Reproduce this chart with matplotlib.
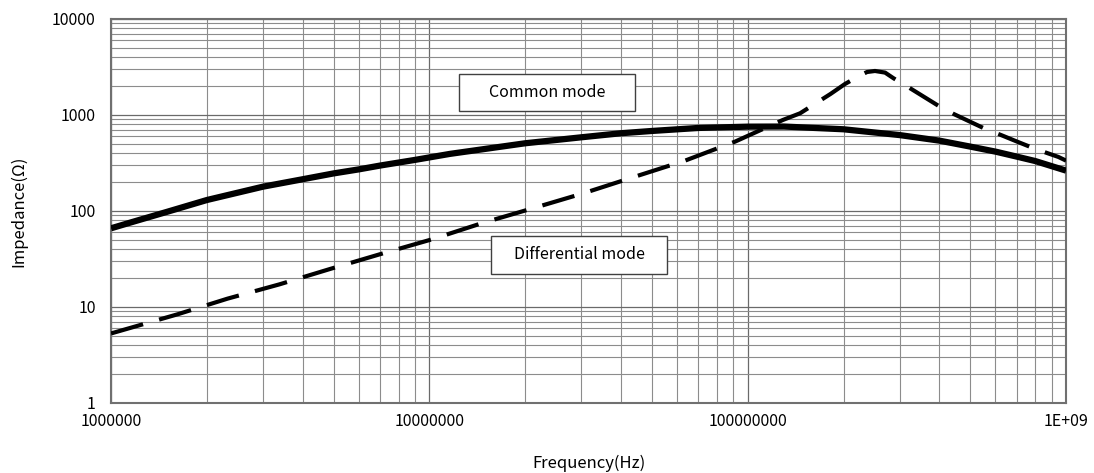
import matplotlib.pyplot as plt
from matplotlib.patches import Rectangle
from matplotlib.ticker import FixedLocator, LogLocator, NullFormatter

plt.rcParams['font.family'] = ['Noto Sans CJK JP', 'DejaVu Sans']

# Common mode impedance (solid)
cm_freq = [1e6, 1.17e6, 1.5e6, 2e6, 3e6, 4e6, 5e6, 6e6, 7e6, 9e6, 1.16e7, 2e7, 3e7,
           4e7, 5e7, 7e7, 1e8, 1.3e8, 2e8, 3e8, 4e8, 5e8, 6e8, 7e8, 8e8, 1e9]
cm_imp = [66, 77, 98, 130, 179, 214, 246, 271, 297, 340, 393, 507, 585,
          645, 681, 732, 755, 757, 709, 617, 540, 468, 415, 368, 331, 263]

# Differential mode impedance (dashed)
dm_freq = [1e6, 1.62e6, 2.32e6, 3.38e6, 4.88e6, 7.03e6, 1.02e7, 1.46e7, 2.12e7, 3.05e7,
           4.43e7, 6.35e7, 9.12e7, 1.29e8, 1.46e8, 1.82e8, 2.02e8, 2.24e8, 2.37e8,
           2.51e8, 2.7e8, 2.87e8, 3.2e8, 3.57e8, 3.98e8, 4.43e8, 4.99e8, 5.6e8,
           6.25e8, 7.06e8, 8e8, 9.46e8, 1e9]
dm_imp = [5.3, 8.4, 12.2, 17.2, 24.9, 35.6, 50.7, 74.5, 107, 153,
          228, 334, 527, 887, 1040, 1655, 2100, 2550, 2800,
          2870, 2760, 2410, 1940, 1550, 1240, 1025, 851, 710,
          617, 523, 443, 365, 334]

x_ticks = [1e6, 1e7, 1e8, 1e9]
x_labels = ['1000000', '10000000', '100000000', '1E+09']
y_ticks = [1, 10, 100, 1000, 10000]
y_labels = ['1', '10', '100', '1000', '10000']


def main():
    fig = plt.figure(figsize=(10.94, 4.73), dpi=100)
    ax = fig.add_axes([0.1015, 0.148, 0.873, 0.812])
    ax.set_xscale('log')
    ax.set_yscale('log')
    ax.set_xlim(1e6, 1e9)
    ax.set_ylim(1, 10000)

    # grid
    ax.xaxis.set_major_locator(FixedLocator(x_ticks))
    ax.yaxis.set_major_locator(FixedLocator(y_ticks))
    ax.xaxis.set_minor_locator(LogLocator(base=10, subs=range(2, 10)))
    ax.yaxis.set_minor_locator(LogLocator(base=10, subs=range(2, 10)))
    ax.xaxis.set_minor_formatter(NullFormatter())
    ax.yaxis.set_minor_formatter(NullFormatter())
    ax.set_xticklabels(x_labels)
    ax.set_yticklabels(y_labels)
    ax.grid(True, which='major', color='#6a6a6a', lw=0.9)
    ax.grid(True, which='minor', color='#8c8c8c', lw=0.8)
    ax.tick_params(which='both', length=0, labelsize=11.5)
    ax.tick_params(axis='y', pad=11)
    ax.tick_params(axis='x', pad=7)
    for s in ax.spines.values():
        s.set_color('#707070')
        s.set_linewidth(1.5)

    ax.plot(cm_freq, cm_imp, color='black', lw=4.5, solid_capstyle='butt', zorder=3)
    ax.plot(dm_freq, dm_imp, color='black', lw=3, dashes=(8, 4), zorder=3)

    # label boxes
    ax.add_patch(Rectangle((0.364, 0.760), 0.185, 0.097, transform=ax.transAxes,
                           facecolor='white', edgecolor='#404040', lw=1, zorder=4))
    ax.text(0.4565, 0.8085, 'Common mode', transform=ax.transAxes, ha='center',
            va='center', fontsize=11.5, zorder=5)
    ax.add_patch(Rectangle((0.398, 0.336), 0.184, 0.099, transform=ax.transAxes,
                           facecolor='white', edgecolor='#404040', lw=1, zorder=4))
    ax.text(0.49, 0.3855, 'Differential mode', transform=ax.transAxes, ha='center',
            va='center', fontsize=11.5, zorder=5)

    ax.set_xlabel('Frequency(Hz)', fontsize=12, labelpad=18)
    ax.set_ylabel('Impedance(Ω)', fontsize=12, labelpad=18)

    fig.savefig('out.png', dpi=100)


if __name__ == "__main__": main()
